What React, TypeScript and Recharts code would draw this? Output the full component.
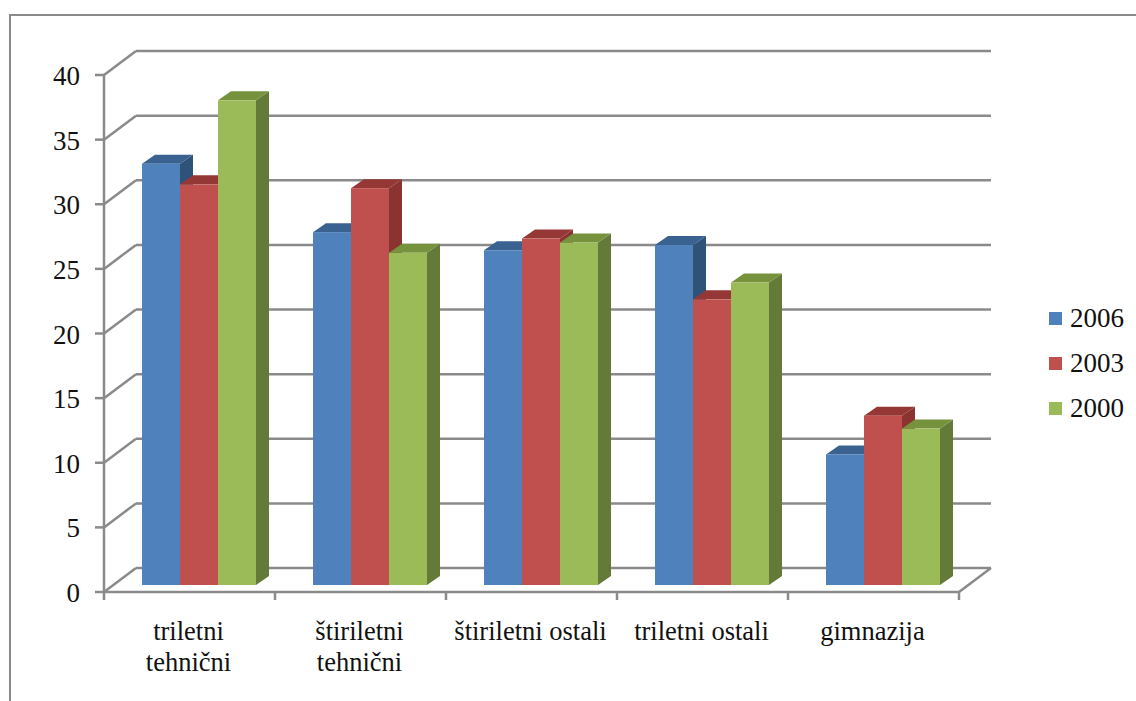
import { BarChart, Bar, XAxis, YAxis, CartesianGrid, Legend } from 'recharts';

const categories = ['triletni\ntehnični', 'štiriletni\ntehnični', 'štiriletni ostali', 'triletni ostali', 'gimnazija'];
const values2006 = [32.6, 27.3, 25.9, 26.3, 10.1];
const values2003 = [31.0, 30.7, 26.8, 22.1, 13.1];
const values2000 = [37.5, 25.7, 26.5, 23.4, 12.1];
const yTicks = [0, 5, 10, 15, 20, 25, 30, 35, 40];

const rows = categories.map((name, i) => ({
  name,
  y2006: values2006[i],
  y2003: values2003[i],
  y2000: values2000[i],
}));

const FONT = '"Liberation Serif", serif';
const AXIS = '#8a8a8a';
const TEXT = '#111';

// plot area of the bar plane, inside the 3D box
const W = 1136;
const H = 701;
const PLOT = { left: 113, right: 968, top: 68, bottom: 585 };

// offsets from the bar plane to the front edge and back wall of the box
const FRONT = { dx: -9, dy: 7 };
const BACK = { dx: 23, dy: -17 };
const DEPTH = { dx: 13, dy: -9 };
const BAND = 171;

const palette = {
  y2006: { front: '#4f81bd', top: '#3a6291', side: '#2f5279' },
  y2003: { front: '#c0504d', top: '#953735', side: '#8b3331' },
  y2000: { front: '#9bbb59', top: '#76923c', side: '#647a38' },
};

function box3d(c: { front: string; top: string; side: string }) {
  return function Box(props: any) {
    const { x, y, width, height } = props;
    const r = x + width;
    const b = y + height;
    return (
      <g>
        <polygon points={`${r},${y} ${r + DEPTH.dx},${y + DEPTH.dy} ${r + DEPTH.dx},${b + DEPTH.dy} ${r},${b}`} fill={c.side} />
        <polygon points={`${x},${y} ${x + DEPTH.dx},${y + DEPTH.dy} ${r + DEPTH.dx},${y + DEPTH.dy} ${r},${y}`} fill={c.top} />
        <rect x={x} y={y} width={width} height={height} fill={c.front} />
      </g>
    );
  };
}

// back wall line plus the diagonal that joins it to the front axis
function wallLine(props: any) {
  const { x1, x2, y1, index } = props;
  const isFloor = Math.abs(y1 - PLOT.bottom) < 1;
  const line = { stroke: AXIS, strokeWidth: 2.5, fill: 'none' };
  return (
    <g key={`wall-${index}`}>
      <line x1={x1 + BACK.dx} y1={y1 + BACK.dy} x2={x2 + BACK.dx} y2={y1 + BACK.dy} {...line} />
      <line x1={x1 + FRONT.dx} y1={y1 + FRONT.dy} x2={x1 + BACK.dx} y2={y1 + BACK.dy} {...line} />
      {isFloor && (
        <g>
          <line x1={x2 + FRONT.dx} y1={y1 + FRONT.dy} x2={x2 + BACK.dx} y2={y1 + BACK.dy} {...line} />
          <line x1={x1 + FRONT.dx} y1={y1 + FRONT.dy} x2={x2 + FRONT.dx} y2={y1 + FRONT.dy} {...line} />
          <line x1={x1 + FRONT.dx} y1={y1 + FRONT.dy} x2={x1 + FRONT.dx} y2={PLOT.top + FRONT.dy} {...line} />
        </g>
      )}
    </g>
  );
}

function YTick(props: any) {
  const { y, payload } = props;
  const axisX = PLOT.left + FRONT.dx;
  const ty = y + FRONT.dy;
  return (
    <g>
      <line x1={axisX - 9} y1={ty} x2={axisX} y2={ty} stroke={AXIS} strokeWidth={2.5} />
      <text x={80} y={ty + 10} textAnchor="end" fontFamily={FONT} fontSize={27} fill={TEXT}>
        {payload.value}
      </text>
    </g>
  );
}

function XTick(props: any) {
  const { x, payload, index } = props;
  const cx = x + FRONT.dx;
  const axisY = PLOT.bottom + FRONT.dy;
  const lines: string[] = payload.value.split('\n');
  return (
    <g>
      <line x1={cx - BAND / 2} y1={axisY} x2={cx - BAND / 2} y2={axisY + 8} stroke={AXIS} strokeWidth={2.5} />
      {index === categories.length - 1 && (
        <line x1={cx + BAND / 2} y1={axisY} x2={cx + BAND / 2} y2={axisY + 8} stroke={AXIS} strokeWidth={2.5} />
      )}
      {lines.map((t, i) => (
        <text key={t} x={cx - 1} y={640 + i * 31} textAnchor="middle" fontFamily={FONT} fontSize={26.5} fill={TEXT}>
          {t}
        </text>
      ))}
    </g>
  );
}

function LegendList({ payload }: any) {
  return (
    <div>
      {(payload || []).map((item: any) => (
        <div key={item.value} style={{ display: 'flex', alignItems: 'center', height: 45 }}>
          <span style={{ width: 13, height: 13, background: item.color, marginRight: 8 }} />
          <span style={{ fontFamily: FONT, fontSize: 27, color: TEXT, lineHeight: '45px' }}>{item.value}</span>
        </div>
      ))}
    </div>
  );
}

export default function App() {
  return (
    <div style={{ position: 'absolute', left: 0, top: 0, width: W, height: H, background: '#fff', overflow: 'hidden' }}>
      <div style={{ position: 'absolute', left: 9, top: 14, width: W, height: H, borderLeft: `2px solid ${AXIS}`, borderTop: `2px solid ${AXIS}` }} />
      <BarChart
        width={W}
        height={H}
        data={rows}
        barSize={38}
        barGap={0}
        margin={{ top: PLOT.top, right: W - PLOT.right, bottom: 0, left: 0 }}
        style={{ position: 'absolute', left: 0, top: 0 }}
      >
        <CartesianGrid horizontal={wallLine} vertical={false} />
        <XAxis dataKey="name" height={H - PLOT.bottom} axisLine={false} tickLine={false} interval={0} tick={XTick} />
        <YAxis width={PLOT.left} domain={[0, 40]} ticks={yTicks} interval={0} axisLine={false} tickLine={false} tick={YTick} />
        <Legend
          layout="vertical"
          align="center"
          verticalAlign="middle"
          itemSorter={null}
          wrapperStyle={{ left: 1049, top: 296, width: 87 }}
          content={LegendList}
        />
        <Bar dataKey="y2006" name="2006" fill={palette.y2006.front} shape={box3d(palette.y2006)} isAnimationActive={false} />
        <Bar dataKey="y2003" name="2003" fill={palette.y2003.front} shape={box3d(palette.y2003)} isAnimationActive={false} />
        <Bar dataKey="y2000" name="2000" fill={palette.y2000.front} shape={box3d(palette.y2000)} isAnimationActive={false} />
      </BarChart>
    </div>
  );
}
